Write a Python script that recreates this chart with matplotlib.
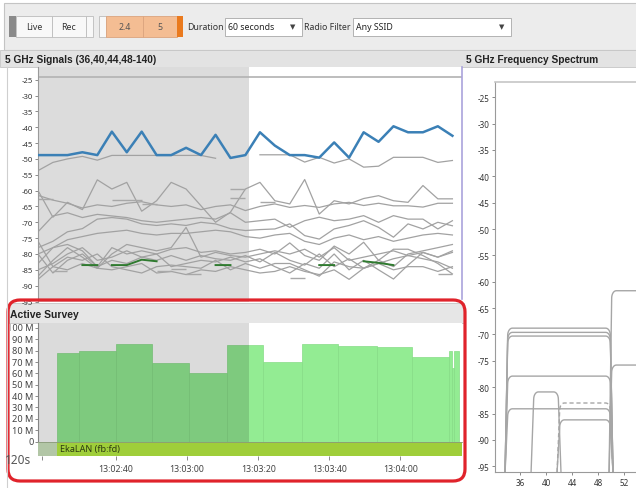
import matplotlib
matplotlib.use("Agg")
import matplotlib.pyplot as plt
from matplotlib.patches import Rectangle, FancyBboxPatch
from matplotlib.transforms import Bbox, TransformedBbox, blended_transform_factory
import numpy as np

plt.rcParams['font.family'] = ['Noto Sans', 'DejaVu Sans']
BOLD_FONT = ['Liberation Sans', 'DejaVu Sans']

# ---------------------------------------------------------------- data
N = None
# sample times of the signal trace (seconds after 13:02:00)
SAMPLE_T = [18.0, 22.2, 26.3, 30.5, 34.7, 38.8, 43.0, 47.2, 51.4, 55.5,
            59.7, 63.9, 68.0, 72.2, 76.4, 80.5, 84.7, 88.9, 93.1, 97.2,
            101.4, 105.6, 109.7, 113.9, 118.1, 122.2, 126.4, 130.6, 134.7]

BLUE_DBM = [-48.8, -48.8, -48.8, -47.9, -48.8, -41.4, -47.9, -41.4, -48.8, -48.8,
            -46.5, -48.8, -42.4, -49.7, -48.8, -41.6, -45.8, -48.8, -48.8, -49.6,
            -44.8, -49.6, -41.6, -44.6, -39.7, -41.6, -41.6, -39.7, -42.7]

GRAY_A = [-53.7, -51.1, -50.0, -49.2, -50.4, -48.9, -48.9, -48.9, -48.9, -48.9,
          -48.9, -48.9, -49.8, N, N, -48.7, -48.7, -48.7, -51.0, -49.5,
          -51.3, -50.0, -52.6, -52.3, -49.5, -49.5, -49.5, -51.1, -50.5]
GRAY_B = [-60.0, -68.4, -63.7, -66.0, -56.6, -59.5, -57.4, -66.5, -63.2, -57.4,
          -59.5, -64.8, -70.0, -66.8, -59.5, -57.4, -63.2, -64.2, -56.5, -67.4,
          -63.2, -64.2, -62.5, -61.6, -63.2, -63.7, -58.4, -62.6, -62.6]
GRAY_C = [-61.5, -63.0, -64.0, -65.5, -64.5, -65.0, -64.0, -63.5, -64.5, -65.0,
          -64.5, -66.0, -65.0, -64.5, -66.3, -65.0, -64.2, -65.3, -64.7, -65.3,
          -64.2, -63.7, -64.7, -64.0, -64.8, -64.8, -65.2, -64.0, -64.0]
GRAY_D = [-73.0, -68.0, -67.0, -68.5, -67.5, -68.0, -68.5, -69.5, -70.0, -69.5,
          -69.0, -68.5, -69.0, -67.0, -70.0, -69.5, -69.0, -71.6, -69.5, -68.4,
          -69.5, -69.0, -67.9, -70.0, -67.9, -69.0, -69.0, -72.1, -69.5]
GRAY_E = [-78.0, -76.0, -73.0, -72.0, -69.0, -68.5, -69.0, -70.5, -71.0, -70.5,
          -71.0, -70.0, -70.5, -72.0, -72.6, -72.3, -72.1, -70.5, -74.2, -75.3,
          -72.1, -71.0, -69.5, -71.6, -74.7, -70.5, -72.1, -70.0, -71.1]
GRAY_F = [-80.0, -78.0, -75.5, -74.5, -73.5, -73.0, -72.5, -73.5, -74.0, -73.5,
          -73.5, -73.0, -72.5, -73.0, -74.5, -75.0, -74.0, -73.5, -76.0, -77.0,
          -75.0, -74.0, -75.5, -74.5, -76.0, -75.0, -74.0, -73.5, -74.0]
GRAY_G = [-83.0, -78.0, -77.0, -79.0, -84.0, -78.0, -80.0, -79.0, -80.0, -78.5,
          -78.0, -79.5, -79.0, -80.0, -79.5, -78.5, -80.0, -76.5, -80.5, -82.0,
          -77.5, -80.0, -76.3, -82.0, -78.5, -78.5, -80.5, -83.0, -86.3]
GRAY_H = [-87.0, -82.0, -78.0, -81.0, -84.5, -80.0, -77.0, -78.0, -79.0, -78.0,
          -71.6, -81.0, -79.5, -80.5, -81.0, -80.0, -79.0, -80.0, -78.5, -81.0,
          -78.0, -82.0, -81.0, -80.0, -79.0, -80.5, -79.5, -81.0, -79.5]
GRAY_I = [-85.0, -83.0, -80.0, -78.0, -82.0, -81.0, -79.0, -81.0, -82.0, -80.5,
          -82.0, -80.5, -81.5, -82.0, -80.5, -82.5, -79.5, -82.0, -83.5, -80.0,
          -84.0, -81.5, -84.5, -82.0, -84.0, -80.0, -79.0, -78.0, -77.0]
GRAY_J = [-80.0, -86.0, -82.0, -80.0, -84.0, -82.0, -83.0, -81.0, -80.0, -84.0,
          -83.0, -82.0, -82.5, -81.0, -82.5, -81.5, -84.0, -86.0, -83.0, -84.5,
          -80.0, -85.0, -82.0, -85.0, -87.9, -83.5, -79.5, -81.0, -79.0]
GRAY_K = [-88.0, -84.0, -81.0, -82.0, -80.0, -84.0, -85.0, -86.0, -84.0, -83.5,
          -84.0, -84.5, -82.0, -85.0, -83.0, -84.5, -83.0, -83.0, -85.0, -87.0,
          -82.5, -84.0, -84.5, -83.0, -81.5, -80.5, -81.5, -82.5, -84.5]
GRAY_L = [-76.0, -84.0, -85.0, -83.0, -84.5, -85.0, -84.0, -83.0, -86.0, -85.5,
          -86.5, -85.0, -85.5, -84.0, -85.0, -86.0, -85.5, -84.0, -85.5, -86.5,
          -85.0, -88.0, -84.5, -83.0, -85.0, -84.0, -84.0, -85.5, -84.0]

GREEN_T = [30.5, 34.7, N, 38.8, 43.0, 47.2, 51.4, N, 68.0, 72.2, N,
           97.2, 101.4, N, 109.7, 113.9, 118.1]
GREEN_DBM = [-83.5, -83.5, N, -83.5, -83.5, -81.8, -82.3, N, -83.5, -83.5, N,
             -83.5, -83.5, N, -82.3, -82.8, -83.5]

DASH_T0 = [18.0, 38.8, 72.2, 72.2, 22.2, 51.4, 59.7, 80.5, 88.9, 130.6, 55.5, 47.2]
DASH_T1 = [22.2, 47.2, 76.4, 76.4, 26.3, 55.5, 63.9, 84.7, 93.1, 134.7, 59.7, 51.4]
DASH_DBM = [-62.6, -63.0, -59.6, -62.2, -85.5, -85.3, -86.3, -63.6, -87.5, -86.3, -84.7, -64.2]

SIG_TICKS = [-25, -30, -35, -40, -45, -50, -55, -60, -65, -70, -75, -80, -85, -90, -95]
SIG_TOP_LINE = -24.2

# Active survey throughput bars
BAR_START = [23.4, 29.6, 40.0, 50.0, 60.5, 71.2, 81.4, 92.4, 102.5, 113.5, 123.4, 133.8, 134.5, 135.1]
BAR_END = [29.6, 40.0, 50.0, 60.5, 71.2, 81.4, 92.4, 102.5, 113.5, 123.4, 133.8, 134.5, 135.1, 136.6]
BAR_MBPS = [77.6, 79.4, 85.8, 69.3, 60.2, 84.9, 70.2, 85.8, 84.3, 83.4, 74.3, 79.6, 65.0, 79.6]
BAR_TICKS = [0, 10, 20, 30, 40, 50, 60, 70, 80, 90, 100]
BAR_LABELS = ['0', '10 M', '20 M', '30 M', '40 M', '50 M', '60 M', '70 M', '80 M', '90 M', '100 M']

TIME_TICKS = [19, 40, 60, 80, 100, 120]
TIME_LABELS = ['', '13:02:40', '13:03:00', '13:03:20', '13:03:40', '13:04:00']
SHADE_END_T = 77.4

# spectrum shapes: centre channel, width MHz, level dBm, dashed
SPEC_CENTER = [42, 42, 42, 42, 42, 40, 46, 46, 58, 58]
SPEC_MHZ = [80, 80, 80, 80, 80, 20, 40, 40, 80, 80]
SPEC_LEVEL = [-68.8, -69.6, -70.3, -77.9, -84.1, -80.9, -83.0, -86.2, -61.7, -75.8]
SPEC_DASHED = [False, False, False, False, False, False, True, False, False, False]
SPEC_XTICKS = [36, 40, 44, 48, 52]
SPEC_YTICKS = [-25, -30, -35, -40, -45, -50, -55, -60, -65, -70, -75, -80, -85, -90, -95]

# ---------------------------------------------------------------- figure
W, H = 636, 489
fig = plt.figure(figsize=(W / 100, H / 100), dpi=100)
fig.patch.set_facecolor('white')


def px_axes(x0, y0, x1, y1, z=0):
    a = fig.add_axes([x0 / W, 1 - y1 / H, (x1 - x0) / W, (y1 - y0) / H])
    a.set_zorder(z)
    return a


def rect(ax, x0, y0, x1, y1, fc, ec='none', lw=0.0, z=1):
    ax.add_patch(Rectangle((x0, y0), x1 - x0, y1 - y0, facecolor=fc,
                           edgecolor=ec, linewidth=lw, zorder=z))


bg = px_axes(0, 0, W, H, z=-10)
bg.set_xlim(0, W); bg.set_ylim(H, 0); bg.axis('off')

# toolbar
rect(bg, 4, 4, W + 2, 51, '#ececec', ec='#c4c4c4', lw=0.8)
rect(bg, 9, 17, 16, 38, '#8a8a8a')
for x0, x1, lab in [(16, 52, 'Live'), (52, 86, 'Rec'), (86, 93, '')]:
    rect(bg, x0, 17, x1, 38, '#f8f8f8', ec='#bcbcbc', lw=0.6)
    bg.text((x0 + x1) / 2, 27.5, lab, fontsize=6.3, color='#333', ha='center', va='center')
rect(bg, 99, 17, 106, 38, '#f8f8f8', ec='#bcbcbc', lw=0.6)
for x0, x1, lab in [(106, 143, '2.4'), (143, 177, '5')]:
    rect(bg, x0, 17, x1, 38, '#f4bd93', ec='#dba47e', lw=0.6)
    bg.text((x0 + x1) / 2, 27.5, lab, fontsize=6.3, color='#555', ha='center', va='center')
rect(bg, 177, 17, 183, 38, '#ea7a1e')
bg.text(187, 27.5, 'Duration', fontsize=6.3, color='#333', va='center')
rect(bg, 225, 19, 302, 37, 'white', ec='#a8a8a8', lw=0.6)
bg.text(228, 28, '60 seconds', fontsize=6.3, color='#222', va='center')
bg.text(293, 28, '▼', fontsize=5, color='#444', ha='center', va='center')
bg.text(304, 27.5, 'Radio Filter', fontsize=6.3, color='#333', va='center')
rect(bg, 353, 19, 511, 37, 'white', ec='#a8a8a8', lw=0.6)
bg.text(356, 28, 'Any SSID', fontsize=6.3, color='#222', va='center')
bg.text(502, 28, '▼', fontsize=5, color='#444', ha='center', va='center')

# panel headers
rect(bg, 0, 51, W, 68, '#e3e3e3', ec='#c6c6c6', lw=0.6)
bg.text(5, 60, '5 GHz Signals (36,40,44,48-140)', fontsize=7.3, fontweight='bold',
        family=BOLD_FONT, color='#222', va='center')
bg.text(466, 60, '5 GHz Frequency Spectrum', fontsize=7.3, fontweight='bold',
        family=BOLD_FONT, color='#222', va='center')

# active survey header
rect(bg, 9, 304, 464, 324, '#e6e6e6', ec='#c4c4c4', lw=0.6)
bg.text(10, 315, 'Active Survey', fontsize=7.5, fontweight='bold', family=BOLD_FONT,
        color='#222', va='center')

# ---------------------------------------------------------------- signals
t = np.array(SAMPLE_T)


def arr(v):
    return np.array([np.nan if x is None else x for x in v], float)


sa = px_axes(38, 68, 462, 303, z=1)
sa.set_xlim(18, 137.4)
sa.set_ylim(-95.15, -21.0)
sa.axvspan(18, SHADE_END_T, color='#dcdcdc', lw=0, zorder=0)
sa.axhline(SIG_TOP_LINE, color='#b2b2b2', lw=1.2, zorder=1)
for s in [GRAY_A, GRAY_B, GRAY_C, GRAY_D, GRAY_E, GRAY_F,
          GRAY_G, GRAY_H, GRAY_I, GRAY_J, GRAY_K, GRAY_L]:
    sa.plot(t, arr(s), color='#a2a2a2', lw=0.9, zorder=2)
sa.hlines(DASH_DBM, DASH_T0, DASH_T1, color='#a8a8a8', lw=1.0, zorder=2)
sa.plot(arr(GREEN_T), arr(GREEN_DBM), color='#2f7a2f', lw=1.4, zorder=3)
sa.plot(t, arr(BLUE_DBM), color='#3b80b6', lw=1.8, zorder=4)
for sp in ['top', 'right', 'bottom']:
    sa.spines[sp].set_visible(False)
sa.spines['left'].set_color('#9a9a9a')
sa.set_xticks([])
sa.set_yticks(SIG_TICKS)
sa.set_yticklabels([str(v) for v in SIG_TICKS])
sa.tick_params(axis='y', length=2, width=0.6, color='#777', labelsize=5.5,
               labelcolor='#333', pad=1.5)

# ---------------------------------------------------------------- bars
ba = px_axes(38, 324, 462, 442.5, z=1)
ba.set_xlim(18, 137.4)
ba.set_ylim(0, 104.4)
ba.bar(BAR_START, BAR_MBPS, width=np.subtract(BAR_END, BAR_START), align='edge',
       color='#93ec93', edgecolor='#86dc86', linewidth=0.5, zorder=2)
ba.axvspan(18, SHADE_END_T, color='black', alpha=0.14, lw=0, zorder=3)
for sp in ['top', 'right', 'bottom']:
    ba.spines[sp].set_visible(False)
ba.spines['left'].set_color('#9a9a9a')
ba.set_xticks([])
ba.set_yticks(BAR_TICKS)
ba.set_yticklabels([''] * len(BAR_TICKS))
ba.tick_params(axis='y', length=2, width=0.6, color='#777')
clipbox = TransformedBbox(Bbox.from_extents(9.5 / W, 0, 1, 1), fig.transFigure)
btr = blended_transform_factory(ba.transAxes, ba.transData)
for v, lab in zip(BAR_TICKS, BAR_LABELS):
    tx = fig.text(-0.011, v, lab, transform=btr, fontsize=6.6, color='#444',
                  ha='right', va='center')
    tx.set_clip_box(clipbox)
    tx.set_clip_on(True)

# SSID band + time axis
bd = px_axes(38, 442.5, 462, 456.5, z=1)
bd.set_xlim(18, 137.4)
bd.set_ylim(0, 1)
bd.axvspan(18, BAR_START[0], color='#b2c6a6', lw=0)
bd.axvspan(BAR_START[0], 137.4, color='#9fce3a', lw=0)
bd.text(BAR_START[0] + 0.8, 0.5, 'EkaLAN (fb:fd)', fontsize=6.5, color='#2d3a12', va='center')
for sp in ['right', 'left', 'bottom']:
    bd.spines[sp].set_visible(False)
bd.spines['top'].set_color('#8a9a7a')
bd.spines['top'].set_linewidth(0.6)
bd.set_yticks([])
bd.set_xticks(TIME_TICKS)
bd.set_xticklabels(TIME_LABELS)
bd.tick_params(axis='x', length=3, width=0.6, color='#777', labelsize=6.3,
               labelcolor='#444', pad=3)

# ---------------------------------------------------------------- spectrum
spx = px_axes(495, 83, 642, 473, z=1)
spx.set_xlim(32.15, 32.15 + 147 / 6.5)
spx.set_ylim(-96.09, -22.10)
bottom = -96.09
th = np.linspace(0, np.pi / 2, 8)
for c, mhz, lev, dash in zip(SPEC_CENTER, SPEC_MHZ, SPEC_LEVEL, SPEC_DASHED):
    hw = mhz / 10.0 - 0.1
    sk, rc, rd = 0.4, 0.7, 1.4
    lx = (c - hw + rc) - rc * np.cos(th)
    ly = (lev - rd) + rd * np.sin(th)
    rx = (c + hw - rc) + rc * np.sin(th)
    ry = (lev - rd) + rd * np.cos(th)
    xs = np.concatenate([[c - hw - sk], lx, rx, [c + hw + sk]])
    ys = np.concatenate([[bottom], ly, ry, [bottom]])
    spx.plot(xs, ys, color='#a6a6a6', lw=1.0,
             linestyle=(0, (3, 2)) if dash else '-')
spx.spines['right'].set_visible(False)
spx.spines['top'].set_color('#c6c6c6')
spx.spines['top'].set_linewidth(1.2)
spx.spines['left'].set_color('#9a9a9a')
spx.spines['bottom'].set_color('#9a9a9a')
spx.set_xticks(SPEC_XTICKS)
spx.set_xticklabels([str(v) for v in SPEC_XTICKS])
spx.set_yticks(SPEC_YTICKS)
spx.set_yticklabels([str(v) for v in SPEC_YTICKS])
spx.tick_params(axis='both', length=2, width=0.6, color='#777', labelsize=5.8,
                labelcolor='#333', pad=2)

# ---------------------------------------------------------------- overlay
ov = px_axes(0, 0, W, H, z=20)
ov.set_xlim(0, W); ov.set_ylim(H, 0); ov.axis('off')
ov.plot([7, 7], [68, 489], color='#cfcfcf', lw=0.8)
ov.plot([461.5, 461.5], [68, 300], color='#aaa3dc', lw=1.2)
ov.add_patch(FancyBboxPatch((8, 301), 457, 181,
                            boxstyle='round,pad=0,rounding_size=12',
                            facecolor='none', edgecolor='#e0232b', linewidth=2.3))
ov.text(5, 461, '120s', fontsize=8.5, color='#555', va='center', zorder=5)

fig.savefig('out.png', dpi=100, facecolor=fig.get_facecolor())
